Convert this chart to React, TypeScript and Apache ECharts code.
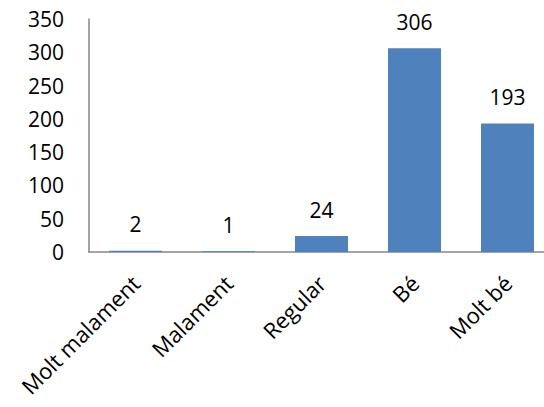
import React, { useEffect, useRef } from "react";
import * as echarts from "echarts";

const categories = ["Molt malament", "Malament", "Regular", "Bé", "Molt bé"];
const values = [2, 1, 24, 306, 193];
const yMin = 0;
const yMax = 350;
const yInterval = 50;

export default function App() {
  const ref = useRef<HTMLDivElement>(null);
  useEffect(() => {
    if (!ref.current) return;
    const chart = echarts.init(ref.current, undefined, { renderer: "svg" });
    const font = "'Open Sans', sans-serif";
    chart.setOption({
      animation: false,
      backgroundColor: "#ffffff",
      grid: {
        left: 89,
        top: 19,
        bottom: 155,
        width: 465,
        containLabel: false,
        outerBoundsMode: "none",
      },
      xAxis: {
        type: "category",
        data: categories,
        axisLine: { show: true, lineStyle: { color: "#868686", width: 1.5 } },
        axisTick: { show: false },
        axisLabel: {
          rotate: 45,
          interval: 0,
          margin: 27,
          color: "#000000",
          fontFamily: font,
          fontSize: 22,
        },
      },
      yAxis: {
        type: "value",
        min: yMin,
        max: yMax,
        interval: yInterval,
        splitLine: { show: false },
        axisLine: { show: true, lineStyle: { color: "#868686", width: 1.5 } },
        axisTick: { show: false },
        axisLabel: {
          margin: 25,
          color: "#000000",
          fontFamily: font,
          fontSize: 21,
        },
      },
      series: [
        {
          type: "bar",
          data: values,
          barCategoryGap: "43%",
          itemStyle: { color: "#4F81BD" },
          label: {
            show: true,
            position: "top",
            distance: 16,
            color: "#000000",
            fontFamily: font,
            fontSize: 21,
          },
        },
      ],
    });
    return () => chart.dispose();
  }, []);
  return (
    <div
      ref={ref}
      style={{ position: "fixed", left: 0, top: 0, width: 544, height: 407, background: "#fff" }}
    />
  );
}
